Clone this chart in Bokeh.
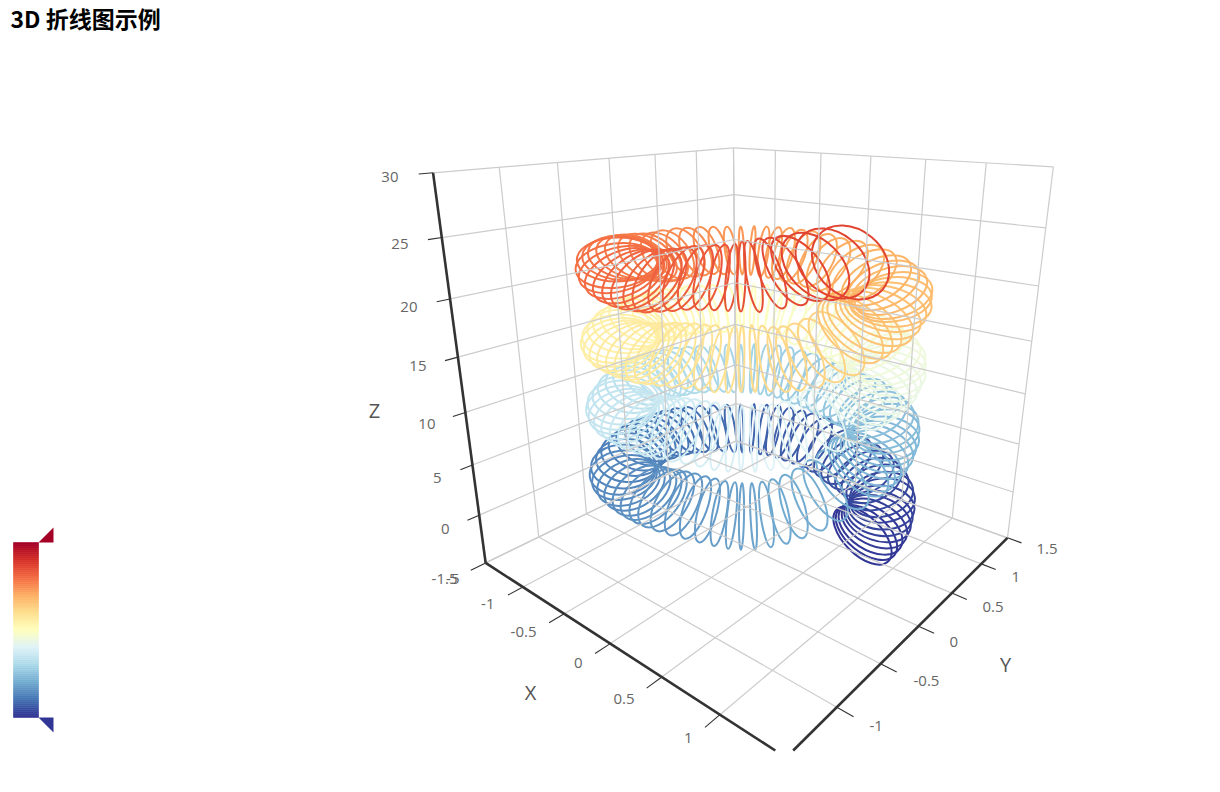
# Coils are hand-estimated from the picture (centre, size, tilt, colour value), not generated from an equation.
import numpy as np
from bokeh.plotting import figure
from bokeh.models import Range1d, ColumnDataSource, LinearColorMapper
from bokeh.core.properties import value
from bokeh.embed import file_html
from bokeh.resources import INLINE

TITLE = "3D 折线图示例"
xy_ticks = [-1.5, -1, -0.5, 0, 0.5, 1, 1.5]
z_ticks = [-5, 0, 5, 10, 15, 20, 25, 30]

x_tick_labels = ["-1.5", "-1", "-0.5", "0", "0.5", "1"]
y_tick_labels = ["-1", "-0.5", "0", "0.5", "1", "1.5"]
z_tick_labels = ["-5", "0", "5", "10", "15", "20", "25", "30"]

stops = ['#313695','#4575b4','#74add1','#abd9e9','#e0f3f8','#ffffbf','#fee090','#fdae61','#f46d43','#d73027','#a50026']

# one turn of coil outlines as seen on screen, read every 1/60 of a turn
shape_w = [73,72,71,70,69,67,66,65,64,64,63,63,62,60,58,56,55,54,53,52,51,50,49,48,48,48,48,49,50,51,
           51,53,55,57,59,61,63,65,66,66,65,65,65,66,66,67,67,67,66,66,66,67,67,67,66,66,66,67,69,71]
shape_h = [38,40,42,43,44,44,44,44,44,43,41,39,37,34,31,28,25,22,18,15,11,8,4,4,9,13,17,22,26,29,
           31,33,36,38,40,42,43,44,44,43,43,42,41,39,37,35,31,27,23,19,14,9,5,6,12,17,22,26,30,35]
shape_tilt = [45,39,33,27,20,12,4,-6,-13,-19,-24,-28,-34,-41,-48,-55,-60,-65,-69,-74,-78,-82,-86,-92,-99,-105,-110,-116,-122,-128,
              -134,-140,-148,-156,-163,-170,-176,-181,-187,-195,-202,-209,-216,-222,-228,-234,-239,-245,-250,-255,-260,-264,-269,-273,-278,-283,-287,-294,-302,-309]
# the tube reads wider on screen the higher it climbs
turn_widen = [1.0, 1.05, 1.15, 1.25]
# the last eight rings of the top turn open up towards the viewer
tail_w = [70,72,74,76,78,80,82,84]
tail_h = [8,14,22,30,40,52,60,66]
tail_tilt = [-269,-280,-290,-300,-310,-315,-320,-320]

turn1_x = [862,866,870,874,877,879,881,882,881,877,871,864,855,846,836,825,814,803,793,783,773,763,752,741,730,718,706,695,685,675,
           667,658,650,643,637,631,627,623,622,624,628,634,641,648,655,662,672,683,695,707,719,731,741,753,766,779,793,809,825,842]
turn1_y = [535,532,528,523,518,513,507,500,494,487,480,473,466,460,453,447,442,438,435,432,430,429,428,428,428,428,428,429,430,432,
           434,437,440,444,449,454,460,466,472,477,482,486,490,493,496,498,501,504,507,510,513,515,516,516,514,511,506,499,490,479]
turn1_z = [0,.1,.2,.3,.4,.5,.6,.7,.8,.9,1.0,1.2,1.3,1.4,1.5,1.6,1.7,1.8,1.9,2.0,2.1,2.2,2.3,2.4,2.5,2.6,2.7,2.8,2.9,3.0,
           3.1,3.2,3.4,3.5,3.6,3.7,3.8,3.9,4.0,4.1,4.2,4.3,4.4,4.5,4.6,4.7,4.8,4.9,5.0,5.1,5.2,5.3,5.5,5.6,5.7,5.8,5.9,6.0,6.1,6.2]

turn2_x = [858,863,868,874,878,881,884,885,885,881,875,868,858,849,838,826,815,803,793,783,773,763,752,741,730,718,706,695,685,674,
           666,657,649,641,635,629,625,621,620,622,626,632,639,646,654,661,672,683,695,707,719,731,741,753,766,779,792,807,823,839]
turn2_y = [466,463,459,453,448,443,438,431,426,420,414,408,402,398,392,387,382,378,375,372,370,369,368,368,368,368,368,369,370,372,
           374,377,379,383,387,391,397,402,407,411,415,418,421,423,425,426,428,430,432,434,437,438,438,438,437,436,433,428,420,411]
turn2_z = [6.3,6.4,6.5,6.6,6.7,6.8,6.9,7.0,7.1,7.2,7.3,7.5,7.6,7.7,7.8,7.9,8.0,8.1,8.2,8.3,8.4,8.5,8.6,8.7,8.8,8.9,9.0,9.1,9.2,9.3,
           9.4,9.5,9.7,9.8,9.9,10.0,10.1,10.2,10.3,10.4,10.5,10.6,10.7,10.8,10.9,11.0,11.1,11.2,11.3,11.4,11.5,11.6,11.8,11.9,12.0,12.1,12.2,12.3,12.4,12.5]

turn3_x = [854,860,866,874,879,883,887,888,889,885,879,872,861,852,840,827,816,803,793,783,773,763,752,741,730,718,706,695,685,673,
           665,656,648,639,633,627,623,619,618,620,624,630,637,644,653,660,672,683,695,707,719,731,741,753,766,779,791,805,821,836]
turn3_y = [398,395,392,387,383,378,373,367,362,357,352,346,340,336,331,327,322,318,315,312,310,309,308,308,308,308,308,309,310,312,
           314,317,318,320,324,327,331,336,340,343,346,348,350,351,353,353,354,355,356,357,359,359,358,358,358,359,358,355,350,343]
turn3_z = [12.6,12.7,12.8,12.9,13.0,13.1,13.2,13.3,13.4,13.5,13.6,13.8,13.9,14.0,14.1,14.2,14.3,14.4,14.5,14.6,14.7,14.8,14.9,15.0,15.1,15.2,15.3,15.4,15.5,15.6,
           15.7,15.8,16.0,16.1,16.2,16.3,16.4,16.5,16.6,16.7,16.8,16.9,17.0,17.1,17.2,17.3,17.4,17.5,17.6,17.7,17.8,17.9,18.1,18.2,18.3,18.4,18.5,18.6,18.7,18.8]

turn4_x = [850,857,864,874,880,885,890,891,893,889,883,876,864,855,842,828,817,803,793,783,773,763,752,741,730,718,706,695,685,672,
           664,655,647,637,631,625,621,617,616,618,622,628,635,642,652,659,672,683,695,707,719,731,741,753,770,785,800,815,832,850]
turn4_y = [330,327,323,318,313,308,304,299,295,290,285,280,275,271,267,264,260,257,255,253,252,251,250,250,250,250,250,251,252,254,
           256,257,257,257,257,257,258,259,265,269,273,276,278,279,280,280,279,278,277,277,277,277,276,276,273,271,268,266,263,262]
turn4_z = [19.4,19.5,19.6,19.7,19.8,19.9,20.0,20.1,20.2,20.3,20.4,20.6,20.7,20.8,20.9,21.0,21.2,21.3,21.4,21.5,21.7,21.8,21.9,22.0,22.1,22.3,22.4,22.5,22.6,22.7,
           22.9,23.0,23.2,23.3,23.4,23.6,23.7,23.8,23.9,24.0,24.1,24.2,24.3,24.4,24.5,24.6,24.7,24.8,24.9,25.0,25.1,25.2,25.4,25.5,25.6,25.7,25.8,25.9,26.0,26.0]

# camera calibration: box points (x, y, z) and where the picture shows them
cal_xyz = [(-1.5,-1.5,-5),(-1.5,-1.5,30),(1.5,1.5,-5),(1.5,1.5,30),(-1.5,1.5,30),(-1.5,1.5,-5),
           (-1,-1.5,-5),(-.5,-1.5,-5),(0,-1.5,-5),(.5,-1.5,-5),(1,-1.5,-5),(1.5,-1.5,-5),
           (1.5,1,-5),(1.5,.5,-5),(1.5,0,-5),(1.5,-.5,-5),(1.5,-1,-5),
           (-1.5,-1.5,0),(-1.5,-1.5,25),(1.5,1.5,25),(-1.5,1.5,25),(-1.5,-1,30),(1,1.5,30)]
cal_px = [(485,561),(433,172),(1007,538),(1053,166),(733,147),(736,441),
          (522,586),(565,613),(610,643),(660,677),(722,718),(783,757),
          (980,563),(952,593),(918,625),(880,662),(837,705),
          (478,515),(441,238),(1045,227),(733,194),(499,167),(986,163)]

rows = []
for (X, Y, Z), (u, v) in zip(cal_xyz, cal_px):
    rows.append([X, Y, Z, 1, 0, 0, 0, 0, -u*X, -u*Y, -u*Z, -u])
    rows.append([0, 0, 0, 0, X, Y, Z, 1, -v*X, -v*Y, -v*Z, -v])
cam = np.linalg.svd(np.array(rows, float))[2][-1].reshape(3, 4)

def proj(X, Y, Z):
    h = cam @ np.array([X, Y, Z, 1.0])
    return h[0]/h[2], h[1]/h[2]

CLIP_Y = 750
def seg(a, b):
    p0, p1 = proj(*a), proj(*b)
    if p0[1] > p1[1]:
        p0, p1 = p1, p0
    if p1[1] > CLIP_Y:
        f = (CLIP_Y-p0[1])/(p1[1]-p0[1])
        p1 = (p0[0]+f*(p1[0]-p0[0]), CLIP_Y)
    return [p0[0], p1[0]], [p0[1], p1[1]]

LO, HI, ZLO, ZHI = -1.5, 1.5, -5, 30
grid = []
for t in xy_ticks:
    grid.append(seg((t, LO, ZLO), (t, HI, ZLO)))
    grid.append(seg((LO, t, ZLO), (HI, t, ZLO)))
    grid.append(seg((LO, t, ZLO), (LO, t, ZHI)))
    grid.append(seg((t, HI, ZLO), (t, HI, ZHI)))
for z in z_ticks:
    grid.append(seg((LO, LO, z), (LO, HI, z)))
    grid.append(seg((LO, HI, z), (HI, HI, z)))

axes = [seg((LO, LO, ZLO), (HI, LO, ZLO)), seg((HI, LO, ZLO), (HI, HI, ZLO)), seg((LO, LO, ZLO), (LO, LO, ZHI))]
ticks = []
for t in xy_ticks[:-1]:
    ticks.append(seg((t, LO, ZLO), (t, LO-0.13, ZLO)))
for t in xy_ticks[1:]:
    ticks.append(seg((HI, t, ZLO), (HI+0.12, t, ZLO)))
for z in z_ticks[1:]:
    ticks.append(seg((LO, LO, z), (LO, LO-0.1, z)))

def lerp_palette(cols, n=256):
    rgb = np.array([[int(c[i:i+2], 16) for i in (1, 3, 5)] for c in cols], float)
    pos = np.linspace(0, len(cols)-1, n)
    out = []
    for q in pos:
        i = min(int(q), len(cols)-2)
        f = q-i
        r, g, b = rgb[i]*(1-f)+rgb[i+1]*f
        out.append("#%02x%02x%02x" % (round(r), round(g), round(b)))
    return out

palette = lerp_palette(stops)
mapper = LinearColorMapper(palette=palette, low=0, high=30)

p = figure(width=1204, height=776, output_backend="svg", toolbar_location=None,
           x_range=Range1d(0, 1204), y_range=Range1d(776, 0), min_border=0)
p.axis.visible = False
p.grid.visible = False
p.outline_line_color = None
p.background_fill_color = "white"

cx = turn1_x+turn2_x+turn3_x+turn4_x
cy = turn1_y+turn2_y+turn3_y+turn4_y
cz = turn1_z+turn2_z+turn3_z+turn4_z

cw, ch, ca = [], [], []
for widen in turn_widen:
    for w, h, tilt in zip(shape_w, shape_h, shape_tilt):
        c2 = np.cos(np.radians(tilt))**2
        cw.append(w*(1+(widen-1)*c2))
        ch.append(h*(1+(widen-1)*(1-c2)))
        ca.append(-np.radians(tilt))
n_tail = len(tail_w)
cw[-n_tail:] = tail_w
ch[-n_tail:] = tail_h
ca[-n_tail:] = [-np.radians(v) for v in tail_tilt]

src = ColumnDataSource(dict(x=cx, y=cy, z=cz, w=cw, h=ch, a=ca))
p.ellipse("x", "y", width="w", height="h", angle="a", source=src, fill_color=None,
          line_color={"field": "z", "transform": mapper}, line_width=2.0)

p.multi_line([g[0] for g in grid], [g[1] for g in grid], line_color="#cccccc", line_width=1.2)
p.multi_line([g[0] for g in ticks], [g[1] for g in ticks], line_color="#333333", line_width=1.1)
p.multi_line([g[0] for g in axes], [g[1] for g in axes], line_color="#333333", line_width=2.6)

font = value("Open Sans")
label_x_px = [(457, 578), (494, 603), (536, 631), (582, 662), (634, 698), (692, 737)]
label_y_px = [(869, 725), (913, 680), (949, 641), (982, 606), (1011, 576), (1036, 548)]
label_z_px = [(459, 578), (449, 528), (441, 477), (435, 423), (426, 365), (417, 306), (408, 243), (398, 176)]

p.text([c[0] for c in label_x_px], [c[1] for c in label_x_px], text=x_tick_labels, text_font=font,
       text_font_size="15px", text_color="#666666", text_align="right", text_baseline="middle")
p.text([c[0] for c in label_z_px], [c[1] for c in label_z_px], text=z_tick_labels, text_font=font,
       text_font_size="15px", text_color="#666666", text_align="right", text_baseline="middle")
p.text([c[0] for c in label_y_px], [c[1] for c in label_y_px], text=y_tick_labels, text_font=font,
       text_font_size="15px", text_color="#666666", text_align="left", text_baseline="middle")
p.text([530, 1005, 374], [692, 664, 410], text=["X", "Y", "Z"], text_font=font, text_font_size="20px",
       text_color="#555555", text_align="center", text_baseline="middle")
p.text([10], [17], text=[TITLE], text_font=value("Noto Sans CJK SC"), text_font_size="23px",
       text_font_style="bold", text_color="#000000", text_align="left", text_baseline="middle")

# colour scale on the left
edges = np.linspace(717, 542, 89)
mids = np.linspace(0, 30, 88)
strip = [palette[int(v/30*255)] for v in mids]
p.quad(left=13, right=38, bottom=edges[:-1], top=edges[1:], fill_color=strip, line_color=strip, line_width=0.6)
p.patches([[38, 53, 53], [38, 53, 53]], [[542, 542, 527], [717, 717, 732]],
          fill_color=[stops[-1], stops[0]], line_color=None)

open("out.html", "w").write(file_html(p, INLINE))
